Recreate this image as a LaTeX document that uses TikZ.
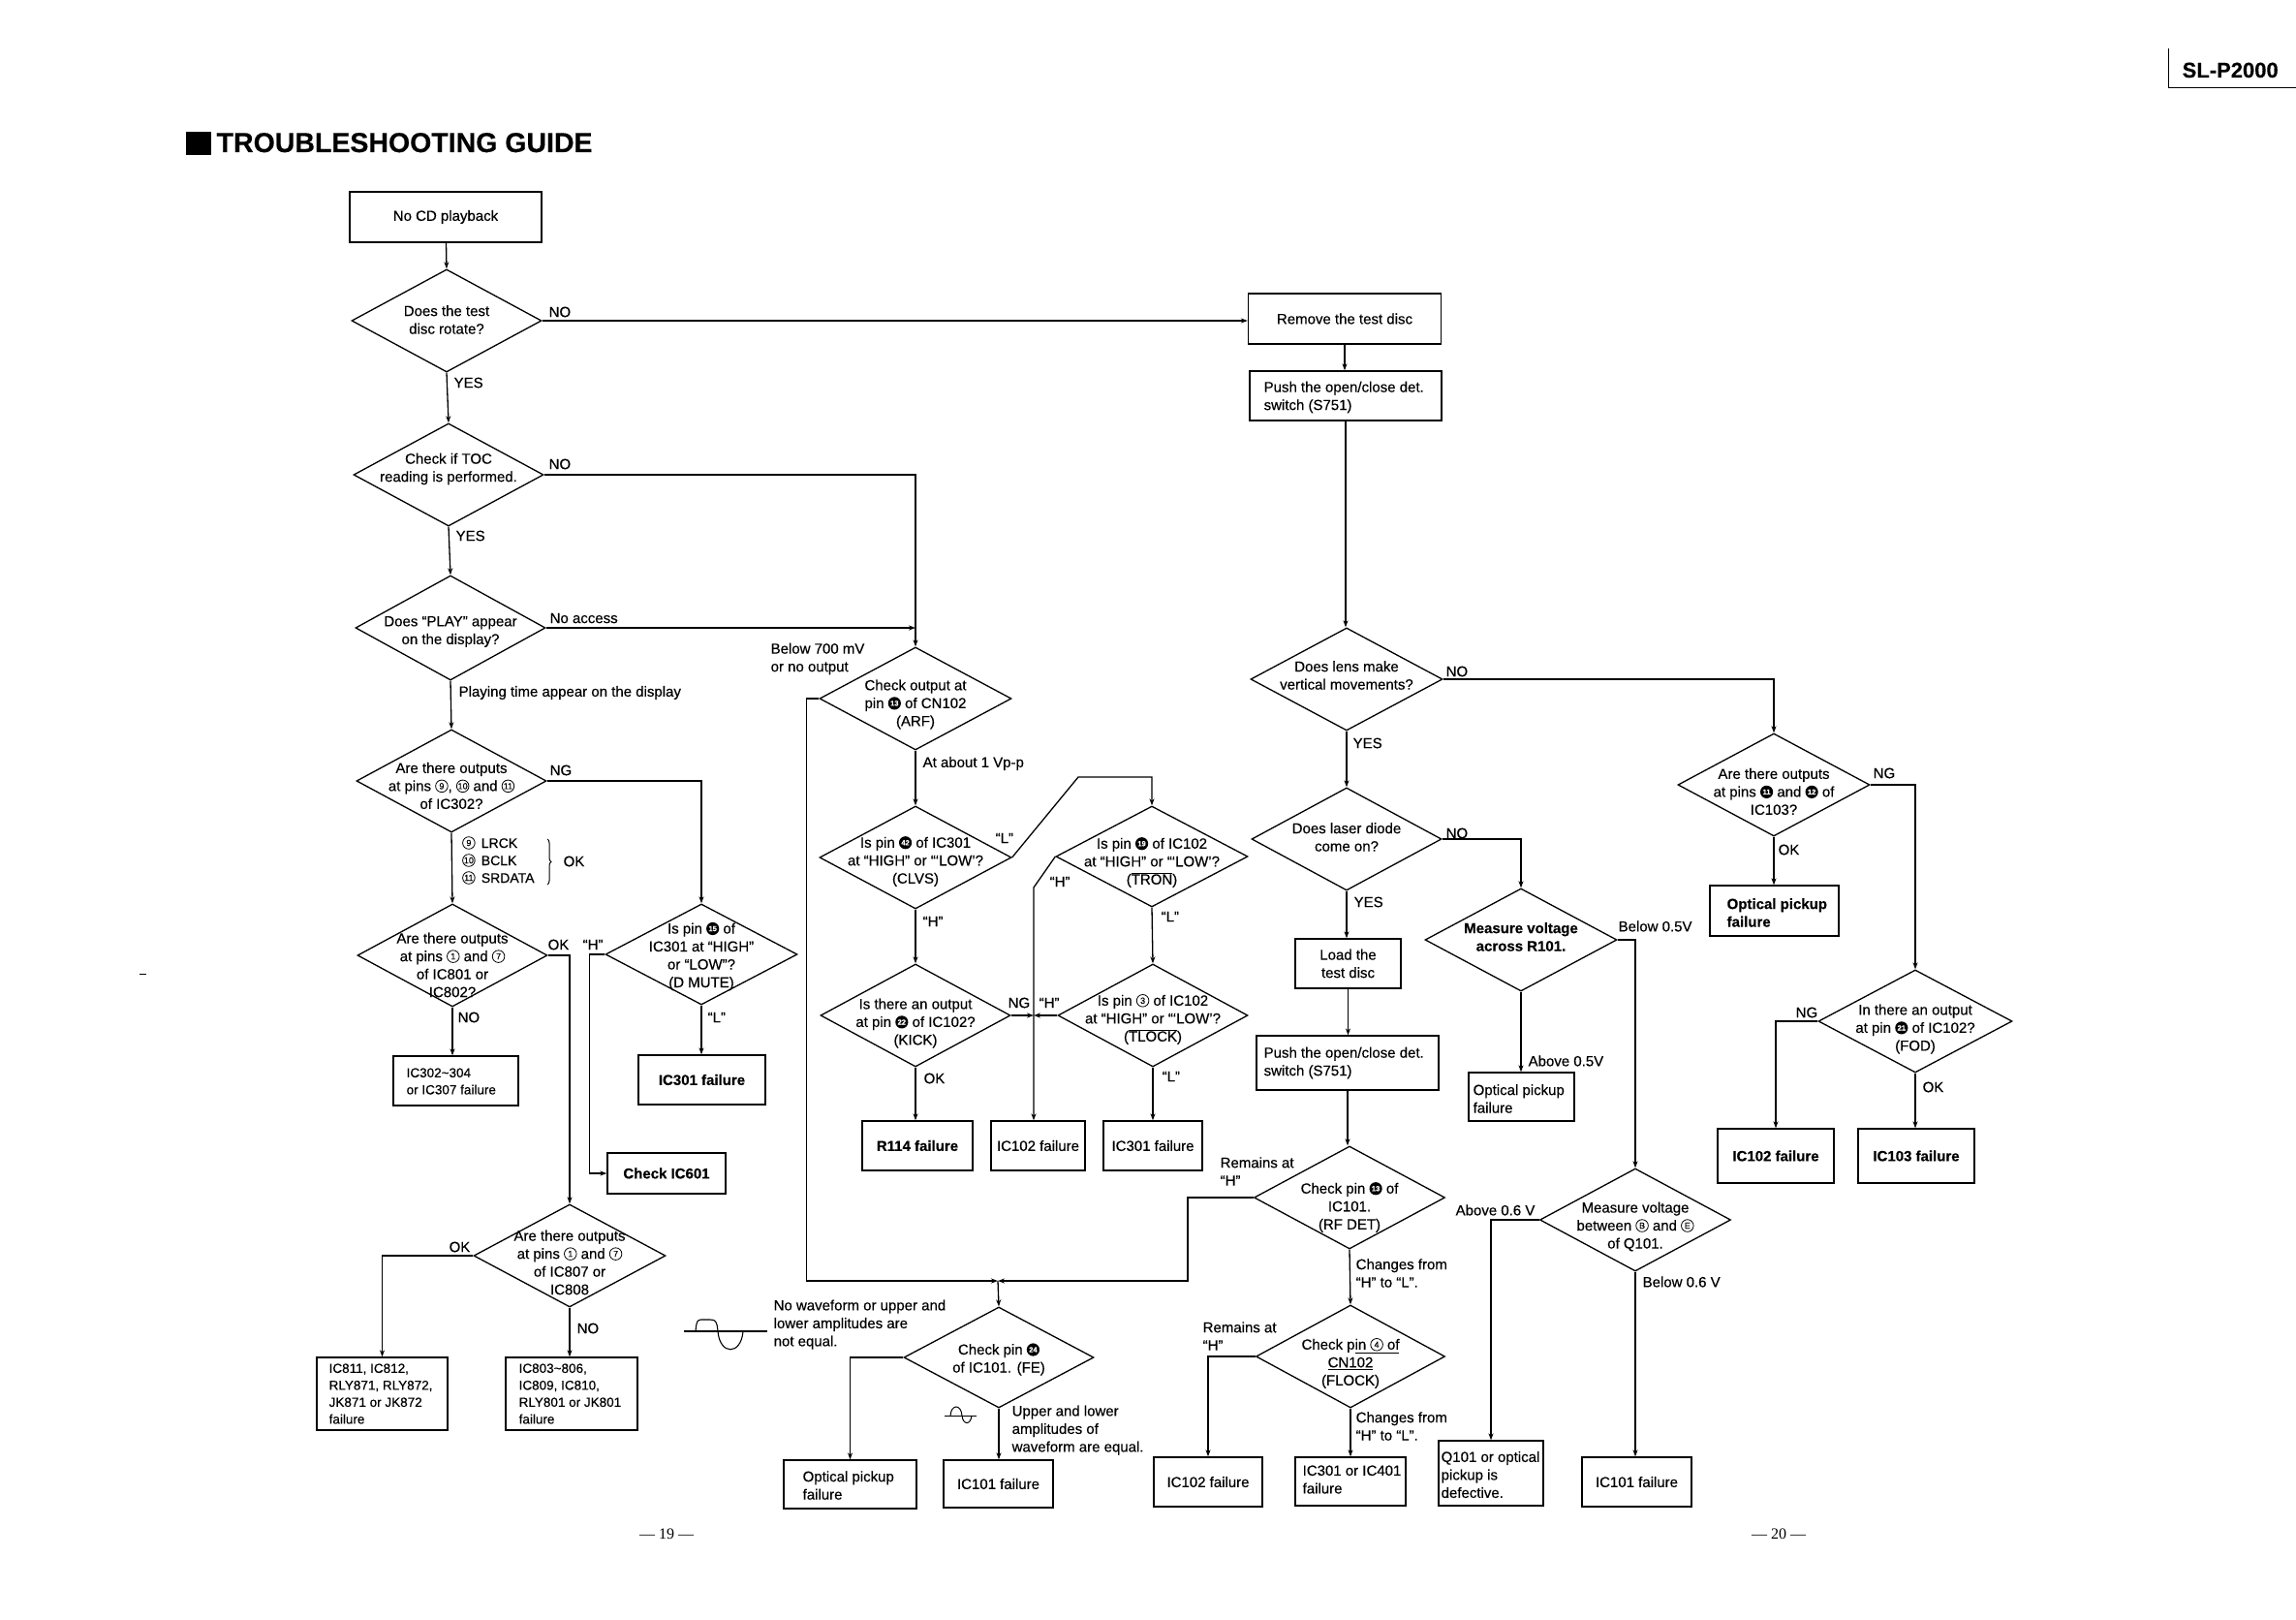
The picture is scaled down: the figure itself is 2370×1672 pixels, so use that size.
\documentclass[tikz,border=0pt]{standalone}
\usepackage{fontspec}
\setmainfont[FakeBold=0.35]{Liberation Sans}
\newfontfamily\seriffont{Liberation Serif}
\usetikzlibrary{arrows.meta,shapes.geometric,calc,decorations.pathreplacing}

\newcommand{\nf}{\fontsize{15}{18.5}\selectfont}
\newcommand{\sfn}{\fontsize{13.5}{17.5}\selectfont}
\newcommand{\cn}[1]{\tikz[baseline=-5pt]{\draw[line width=0.8pt] (0,0) circle (6.3pt); \node[anchor=center,inner sep=0pt,font=\fontsize{9}{9}\selectfont] at (0,0) {#1};}}
\newcommand{\fc}[1]{\tikz[baseline=-5pt]{\fill (0,0) circle (6.6pt); \node[anchor=center,inner sep=0pt,text=white,font=\bfseries\fontsize{7.5}{7.5}\selectfont] at (0,0) {#1};}}
\newcommand{\ovl}[1]{$\overline{\mbox{#1}}$}
\newcommand{\dnode}[7]{%
  \node[dia,minimum width=#4pt,minimum height=#5pt] (#1) at (#2,#3) {};
  \node[tx] (#1t) at (#2,#3#6) {#7};}

\begin{document}
\begin{tikzpicture}[x=1pt,y=-1pt,line width=1.3pt,
  dia/.style={diamond,draw,inner sep=0pt,line width=1.3pt},
  bx/.style={draw,inner sep=0pt,line width=1.3pt,align=center,font=\nf},
  tx/.style={inner sep=0pt,align=center,font=\nf},
  lt/.style={inner sep=0pt,align=left,anchor=west,font=\nf},
  ar/.style={-{Stealth[length=7pt,width=5pt]}}]
\useasboundingbox (0,0) rectangle (2370,1672);

% ---- title and header
\fill (192,136) rectangle (218,160);
\node[anchor=base west,inner sep=0pt,font=\bfseries\fontsize{28.5}{30}\selectfont] (title) at (223,157) {TROUBLESHOOTING GUIDE};
\node[anchor=base west,inner sep=0pt,font=\bfseries\fontsize{22}{24}\selectfont] (model) at (2252,80) {SL-P2000};
\draw[line width=1pt] (2238,50) -- (2238,91) -- (2370,91);
\node[font=\seriffont\fontsize{16}{16}\selectfont] (p19) at (688,1583) {— 19 —};
\node[font=\seriffont\fontsize{16}{16}\selectfont] (p20) at (1836,1583) {— 20 —};
\draw[line width=0.8pt] (144,1005) -- (151,1005);

% ---- left column
\node[bx,minimum width=198pt,minimum height=52pt] (n0) at (460,224) {No CD playback};
\dnode{d1}{461}{331}{196}{106}{-1}{Does the test\\disc rotate?}
\dnode{d2}{463}{490}{196}{106}{-6}{Check if TOC\\reading is performed.}
\dnode{d3}{465}{648}{196}{108}{+4}{Does “PLAY” appear\\on the display?}
\dnode{d4}{466}{806}{196}{106}{+5}{Are there outputs\\at pins \cn{9}, \cn{10} and \cn{11}\\of IC302?}
\dnode{d5}{467}{986}{196}{106}{+10}{Are there outputs\\at pins \cn{1} and \cn{7}\\of IC801 or\\IC802?}
\dnode{dm}{724}{985}{198}{104}{+2}{Is pin \fc{15} of\\IC301 at “HIGH”\\or “LOW”?\\(D MUTE)}
\dnode{d7}{588}{1296}{198}{106}{+7}{Are there outputs\\at pins \cn{1} and \cn{7}\\of IC807 or\\IC808}

\node[bx,minimum width=129pt,minimum height=51pt] (b302) at (470.5,1115.5) {};
\node[lt,font=\sfn] (b302t) at (419,1116) {IC302\textasciitilde304\\or IC307 failure};
\node[bx,font=\nf\bfseries,minimum width=131pt,minimum height=51pt] (b301a) at (724.5,1114.5) {IC301 failure};
\node[bx,font=\nf\bfseries,minimum width=122pt,minimum height=42pt] (b601) at (688,1211) {Check IC601};
\node[bx,minimum width=135pt,minimum height=75pt] (b811) at (394.5,1438.5) {};
\node[lt,font=\sfn] (b811t) at (339,1438.5) {IC811, IC812,\\RLY871, RLY872,\\JK871 or JK872\\failure};
\node[bx,minimum width=136pt,minimum height=75pt] (b803) at (590,1438.5) {};
\node[lt,font=\sfn] (b803t) at (535,1438.5) {IC803\textasciitilde806,\\IC809, IC810,\\RLY801 or JK801\\failure};

% ---- middle column
\dnode{dA}{945}{721}{198}{106}{+6}{Check output at\\pin \fc{13} of CN102\\(ARF)}
\dnode{dB}{945}{885}{198}{106}{+4}{Is pin \fc{42} of IC301\\at “HIGH” or “‘LOW’?\\(CLVS)}
\dnode{dC}{1189}{884}{198}{104}{+6}{Is pin \fc{19} of IC102\\at “HIGH” or “‘LOW’?\\(\ovl{TRON})}
\dnode{dK}{945}{1048}{196}{106}{+8}{Is there an output\\at pin \fc{22} of IC102?\\(KICK)}
\dnode{dT}{1190}{1048}{196}{106}{+4}{Is pin \cn{3} of IC102\\at “HIGH” or “‘LOW’?\\(\ovl{TLOCK})}
\node[bx,font=\nf\bfseries,minimum width=114pt,minimum height=51pt] (b114) at (947,1182.5) {R114 failure};
\node[bx,minimum width=97pt,minimum height=51pt] (b102m) at (1071.5,1182.5) {IC102 failure};
\node[bx,minimum width=102pt,minimum height=51pt] (b301m) at (1190,1182.5) {IC301 failure};
\dnode{dF}{1031}{1401}{196}{104}{+2}{Check pin \fc{24}\\of IC101. (FE)}
\node[bx,minimum width=137pt,minimum height=50pt] (bop1) at (877.5,1532) {};
\node[lt] (bop1t) at (828,1533) {Optical pickup\\failure};
\node[bx,minimum width=113pt,minimum height=49pt] (b101a) at (1030.5,1531.5) {IC101 failure};

% ---- right columns
\node[bx,minimum width=199pt,minimum height=52pt] (brem) at (1388,329) {Remove the test disc};
\node[bx,minimum width=198pt,minimum height=51pt] (bpu1) at (1389,408.5) {};
\node[lt] (bpu1t) at (1304,410) {Push the open/close det.\\switch (S751)};
\dnode{dL}{1390}{701}{198}{106}{-4}{Does lens make\\vertical movements?}
\dnode{dD}{1390}{866}{196}{106}{-2}{Does laser diode\\come on?}
\node[bx,minimum width=109pt,minimum height=51pt] (bld) at (1391.5,994.5) {Load the\\test disc};
\node[bx,minimum width=188pt,minimum height=56pt] (bpu2) at (1391,1097) {};
\node[lt] (bpu2t) at (1304,1097) {Push the open/close det.\\switch (S751)};
\dnode{dR}{1393}{1236}{197}{106}{+10}{Check pin \fc{13} of\\IC101.\\(RF DET)}
\dnode{dFL}{1394}{1400}{195}{106}{+7}{Check p\underline{in \cn{4} of}\\\underline{CN102}\\(FLOCK)}
\node[bx,minimum width=112pt,minimum height=51pt] (b102b) at (1247,1529.5) {IC102 failure};
\node[bx,minimum width=114pt,minimum height=50pt] (b301b) at (1394,1529) {};
\node[lt] (b301bt) at (1344,1527) {IC301 or IC401\\failure};
\dnode{dR1}{1570}{970}{198}{106}{-3}{\bfseries Measure voltage\\\bfseries across R101.}
\node[bx,minimum width=109pt,minimum height=50pt] (bop2) at (1570.5,1132) {};
\node[lt] (bop2t) at (1520,1134) {Optical pickup\\failure};
\dnode{dQ}{1688}{1259}{197}{106}{+7}{Measure voltage\\between \cn{B} and \cn{E}\\of Q101.}
\node[bx,minimum width=108pt,minimum height=67pt] (bq) at (1539,1520.5) {};
\node[lt] (bqt) at (1487,1522) {Q101 or optical\\pickup is\\defective.};
\node[bx,minimum width=113pt,minimum height=51pt] (b101b) at (1689.5,1529.5) {IC101 failure};
\dnode{dI}{1831}{810}{198}{106}{+7}{Are there outputs\\at pins \fc{11} and \fc{12} of\\IC103?}
\node[bx,minimum width=133pt,minimum height=52pt] (bop3) at (1831.5,940) {};
\node[lt,font=\nf\bfseries] (bop3t) at (1782,942) {Optical pickup\\failure};
\dnode{dO}{1977}{1054}{200}{106}{+8}{In there an output\\at pin \fc{21} of IC102?\\(FOD)}
\node[bx,font=\nf\bfseries,minimum width=120pt,minimum height=56pt] (b102r) at (1833,1193) {IC102 failure};
\node[bx,font=\nf\bfseries,minimum width=120pt,minimum height=56pt] (b103) at (1978,1193) {IC103 failure};

% ---- helper coordinates
\coordinate (kL) at (1113,802);
\coordinate (kH) at (1067,916);
\coordinate (kJ) at (1067,1048);
\coordinate (J) at (1030,1322);

% ---- connectors
\draw[ar] (n0) -- (d1.north);
\draw[ar] (d1.east) -- (d1.east -| brem.west);
\draw[ar] (d1.south) -- (d2.north);
\draw[ar] (d2.east) -| (dA.north);
\draw[ar] (d2.south) -- (d3.north);
\draw[ar] (d3.east) -- (d3.east -| dA.north);
\draw[ar] (d3.south) -- (d4.north);
\draw[ar] (d4.east) -| (dm.north);
\draw[ar] (d4.south) -- (d5.north);
\draw[ar] (d5.east) -| (d7.north);
\draw[ar] (d5.south) -- (d5.south |- b302.north);
\draw[ar] (dm.west) -- ++(-16,0) |- (b601.west);
\draw[ar] (dm.south) -- (dm.south |- b301a.north);
\draw[ar] (d7.west) -| (b811.north);
\draw[ar] (d7.south) -- (d7.south |- b803.north);
\draw[ar] (dA.west) -- ++(-13,0) |- (J);
\draw[ar] (dA.south) -- (dB.north);
\draw[ar] (dB.east) -- (kL) -| (dC.north);
\draw[ar] (dC.west) -- (kH) -- (kH |- b102m.north);
\draw[ar] (dC.south) -- (dT.north);
\draw[ar] (dB.south) -- (dK.north);
\draw[ar] (dK.east) -- (kJ);
\draw[ar] (dT.west) -- (kJ);
\draw[ar] (dK.south) -- (dK.south |- b114.north);
\draw[ar] (dT.south) -- (dT.south |- b301m.north);
\draw[ar] (dR.west) -- ++(-68,0) |- (J);
\draw[ar] (J) -- (dF.north);
\draw[ar] (dF.west) -| (bop1.north);
\draw[ar] (dF.south) -- (dF.south |- b101a.north);
\draw[ar] (brem.south) -- (brem.south |- bpu1.north);
\draw[ar] (bpu1.south) -- (bpu1.south |- dL.north);
\draw[ar] (dL.east) -| (dI.north);
\draw[ar] (dL.south) -- (dD.north);
\draw[ar] (dD.east) -| (dR1.north);
\draw[ar] (dD.south) -- (dD.south |- bld.north);
\draw[ar] (bld.south) -- (bld.south |- bpu2.north);
\draw[ar] (bpu2.south) -- (bpu2.south |- dR.north);
\draw[ar] (dR.south) -- (dFL.north);
\draw[ar] (dFL.west) -| (b102b.north);
\draw[ar] (dFL.south) -- (dFL.south |- b301b.north);
\draw[ar] (dR1.east) -| (dQ.north);
\draw[ar] (dR1.south) -- (dR1.south |- bop2.north);
\draw[ar] (dQ.west) -| (bq.north);
\draw[ar] (dQ.south) -- (dQ.south |- b101b.north);
\draw[ar] (dI.east) -| (dO.north);
\draw[ar] (dI.south) -- (dI.south |- bop3.north);
\draw[ar] (dO.west) -| (b102r.north);
\draw[ar] (dO.south) -- (dO.south |- b103.north);

% ---- labels
\node[lt] (l1) at (566,322) {NO};
\node[lt] (l2) at (468,395) {YES};
\node[lt] (l3) at (566,479) {NO};
\node[lt] (l4) at (470,553) {YES};
\node[lt] (l5) at (567,638) {No access};
\node[lt] (l6) at (473,715) {Playing time appear on the display};
\node[lt] (l7) at (567,795) {NG};
\node[lt,font=\fontsize{14}{18}\selectfont] (l8) at (477,888) {\cn{9}\, LRCK\\\cn{10}\, BCLK\\\cn{11}\, SRDATA};
\draw[line width=1pt,decorate,decoration={brace,amplitude=4pt}] (565,866) -- (565,913);
\node[lt] (l9) at (581,889) {OK};
\node[lt] (l10) at (565,975) {OK};
\node[lt] (l11) at (601,975) {“H”};
\node[lt] (l12) at (472,1050) {NO};
\node[lt] (l13) at (730,1050) {“L”};
\node[lt] (l14) at (463,1287) {OK};
\node[lt] (l15) at (595,1371) {NO};
\node[lt] (l16) at (798,1367) {No waveform or upper and\\lower amplitudes are\\not equal.};
\node[lt] (l17) at (795,680) {Below 700 mV\\or no output};
\node[lt] (l18) at (952,788) {At about 1 Vp-p};
\node[lt] (l19) at (1027,865) {“L”};
\node[lt] (l20) at (1083,910) {“H”};
\node[lt] (l21) at (1198,946) {“L”};
\node[lt] (l22) at (952,951) {“H”};
\node[lt] (l23) at (1040,1035) {NG};
\node[lt] (l24) at (1072,1035) {“H”};
\node[lt] (l25) at (953,1113) {OK};
\node[lt] (l26) at (1199,1111) {“L”};
\node[lt] (l27) at (1259,1209) {Remains at\\“H”};
\node[lt] (l28) at (1044,1476) {Upper and lower\\amplitudes of\\waveform are equal.};
\node[lt] (l29) at (1492,693) {NO};
\node[lt] (l30) at (1396,767) {YES};
\node[lt] (l31) at (1492,860) {NO};
\node[lt] (l32) at (1397,931) {YES};
\node[lt] (l33) at (1670,956) {Below 0.5V};
\node[lt] (l34) at (1577,1095) {Above 0.5V};
\node[lt] (l35) at (1502,1249) {Above 0.6 V};
\node[lt] (l36) at (1695,1323) {Below 0.6 V};
\node[lt] (l37) at (1399,1314) {Changes from\\“H” to “L”.};
\node[lt] (l38) at (1241,1379) {Remains at\\“H”};
\node[lt] (l39) at (1399,1472) {Changes from\\“H” to “L”.};
\node[lt] (l40) at (1933,798) {NG};
\node[lt] (l41) at (1835,877) {OK};
\node[lt] (l42) at (1853,1045) {NG};
\node[lt] (l43) at (1984,1122) {OK};

% ---- waveform symbols
\draw[line width=1.1pt] (706,1374) -- (792,1374);
\draw[line width=1.1pt] (718,1374) .. controls (719,1361) and (721,1362) .. (726,1362) -- (733,1362)
  .. controls (739,1362) and (740,1364) .. (741,1374)
  .. controls (743,1399) and (765,1399) .. (767,1374);
\draw[line width=1pt] (975,1461) -- (1008,1461);
\draw[line width=1pt] (981,1461) .. controls (982,1449) and (992,1449) .. (993,1461)
  .. controls (994,1471) and (1002,1471) .. (1003,1461);
\end{tikzpicture}
\end{document}
